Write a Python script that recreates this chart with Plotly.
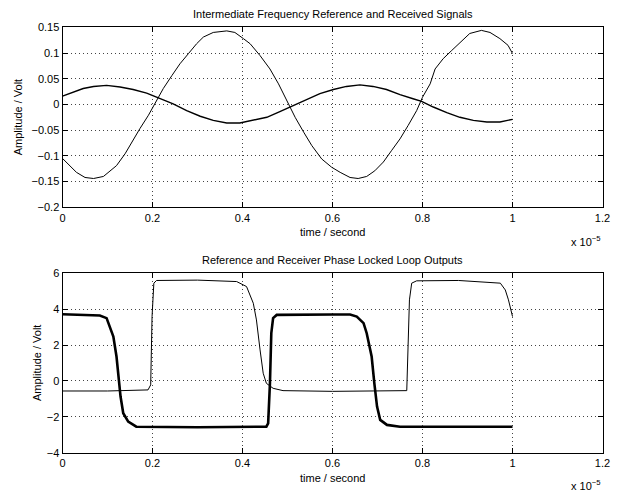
import plotly.graph_objects as go

# ---- data (time in units of 1e-5 s) ----
t_ref_if = [0, 0.024, 0.046, 0.069, 0.098, 0.128, 0.157, 0.187, 0.217, 0.246, 0.276, 0.306,
            0.335, 0.365, 0.394, 0.424, 0.454, 0.483, 0.513, 0.543, 0.572, 0.602, 0.631,
            0.661, 0.69, 0.72, 0.75, 0.779, 0.798, 0.824, 0.854, 0.883, 0.913, 0.943,
            0.972, 1.0]
v_ref_if = [0.016, 0.024, 0.031, 0.035, 0.037, 0.034, 0.029, 0.022, 0.012, 0.001, -0.012, -0.023,
            -0.031, -0.036, -0.036, -0.031, -0.025, -0.014, -0.002, 0.01, 0.021, 0.029, 0.035,
            0.038, 0.035, 0.029, 0.019, 0.011, 0.006, -0.005, -0.016, -0.025, -0.031, -0.034,
            -0.034, -0.029]

t_rx_if = [0, 0.017, 0.031, 0.05, 0.069, 0.091, 0.102, 0.12, 0.139, 0.154, 0.172, 0.191, 0.209,
           0.224, 0.243, 0.261, 0.28, 0.298, 0.313, 0.335, 0.365, 0.383, 0.402, 0.417, 0.439,
           0.461, 0.48, 0.499, 0.517, 0.536, 0.554, 0.576, 0.598, 0.617, 0.639, 0.657, 0.676,
           0.694, 0.713, 0.731, 0.75, 0.768, 0.787, 0.8, 0.817, 0.828, 0.846, 0.865, 0.884,
           0.905, 0.931, 0.95, 0.972, 0.99, 1.0]
v_rx_if = [-0.105, -0.119, -0.132, -0.142, -0.144, -0.14, -0.132, -0.119, -0.096, -0.073, -0.047, -0.021, 0.008,
           0.031, 0.056, 0.079, 0.099, 0.118, 0.131, 0.14, 0.143, 0.14, 0.128, 0.118, 0.095,
           0.069, 0.04, 0.005, -0.025, -0.054, -0.08, -0.106, -0.122, -0.132, -0.142, -0.144, -0.14,
           -0.129, -0.112, -0.09, -0.067, -0.041, -0.012, 0.014, 0.04, 0.069, 0.089, 0.105, 0.121,
           0.138, 0.144, 0.14, 0.128, 0.115, 0.099]

t_ref_pll = [0, 0.05, 0.083, 0.098, 0.113, 0.12, 0.124, 0.129, 0.135, 0.146, 0.164, 0.3, 0.453,
             0.457, 0.461, 0.464, 0.468, 0.476, 0.6, 0.639, 0.654, 0.669, 0.676, 0.687, 0.693,
             0.699, 0.706, 0.721, 0.75, 0.9, 1.0]
v_ref_pll = [3.72, 3.7, 3.65, 3.5, 2.47, 1.36, 0.24, -0.87, -1.8, -2.27, -2.55, -2.58, -2.55,
             -2.36, -0.13, 2.66, 3.5, 3.68, 3.7, 3.7, 3.59, 3.22, 2.66, 1.36, -0.13,
             -1.43, -2.17, -2.45, -2.55, -2.55, -2.55]

t_rx_pll = [0, 0.1, 0.19, 0.196, 0.199, 0.203, 0.209, 0.3, 0.387, 0.409, 0.424, 0.431, 0.439,
            0.446, 0.453, 0.468, 0.49, 0.6, 0.765, 0.767, 0.771, 0.776, 0.787, 0.88, 0.973,
            0.984, 0.991, 1.0]
v_rx_pll = [-0.56, -0.56, -0.5, -0.22, 3.59, 5.45, 5.6, 5.62, 5.54, 5.26, 4.33, 3.4, 1.73,
            0.43, -0.13, -0.41, -0.54, -0.58, -0.54, 1.17, 4.52, 5.45, 5.58, 5.6, 5.45,
            5.07, 4.52, 3.59]

x_ticks = [0, 0.2, 0.4, 0.6, 0.8, 1.0, 1.2]
x_ticktext = ["0", "0.2", "0.4", "0.6", "0.8", "1", "1.2"]
top_yticks = [-0.2, -0.15, -0.1, -0.05, 0, 0.05, 0.1, 0.15]
bot_yticks = [-4, -2, 0, 2, 4, 6]

titles = ["Intermediate Frequency Reference and Received Signals",
          "Reference and Receiver Phase Locked Loop Outputs"]

FONT = "Liberation Sans, Arial, Helvetica, sans-serif"

fig = go.Figure()
fig.add_trace(go.Scatter(x=t_ref_if, y=v_ref_if, mode="lines",
                         line=dict(color="black", width=1.4), xaxis="x", yaxis="y"))
fig.add_trace(go.Scatter(x=t_rx_if, y=v_rx_if, mode="lines",
                         line=dict(color="black", width=1), xaxis="x", yaxis="y"))
fig.add_trace(go.Scatter(x=t_ref_pll, y=v_ref_pll, mode="lines",
                         line=dict(color="black", width=2.6), xaxis="x2", yaxis="y2"))
fig.add_trace(go.Scatter(x=t_rx_pll, y=v_rx_pll, mode="lines",
                         line=dict(color="black", width=1), xaxis="x2", yaxis="y2"))

W, H = 623, 492
xl, xr = 62.5, 602.5
top_t, top_b = 27.3, 207.3
bot_t, bot_b = 273.3, 452.7

common_x = dict(range=[0, 1.2], tickvals=x_ticks, ticktext=x_ticktext, automargin=False,
                showgrid=True, gridcolor="#444", griddash="1px,3px", gridwidth=0.7,
                showline=True, linecolor="black", linewidth=1, mirror="ticks",
                ticks="inside", ticklen=5, tickcolor="black", zeroline=False,
                tickfont=dict(family=FONT, size=11, color="black"),
                domain=[xl / W, xr / W])
common_y = dict(showgrid=True, gridcolor="#444", griddash="1px,3px", gridwidth=0.7,
                automargin=False,
                showline=True, linecolor="black", linewidth=1, mirror="ticks",
                ticks="inside", ticklen=5, tickcolor="black", zeroline=False,
                tickfont=dict(family=FONT, size=11, color="black"))

fig.update_layout(
    template="none",
    width=W, height=H, margin=dict(l=0, r=0, t=0, b=0, pad=0),
    paper_bgcolor="white", plot_bgcolor="white", showlegend=False,
    xaxis=dict(**common_x, anchor="y"),
    yaxis=dict(**common_y, range=[-0.2, 0.15], tickvals=top_yticks,
               domain=[1 - top_b / H, 1 - top_t / H], anchor="x"),
    xaxis2=dict(**common_x, anchor="y2"),
    yaxis2=dict(**common_y, range=[-4, 6], tickvals=bot_yticks,
                domain=[1 - bot_b / H, 1 - bot_t / H], anchor="x2"),
)

cx = (xl + xr) / 2 / W
ann = []
ann.append(dict(text=titles[0], x=cx, y=1 - 14 / H))
ann.append(dict(text=titles[1], x=cx, y=1 - 260 / H))
ann.append(dict(text="time / second", x=cx, y=1 - 232 / H))
ann.append(dict(text="time / second", x=cx, y=1 - 478 / H))
annotations = [dict(a, xref="paper", yref="paper", showarrow=False,
                    font=dict(family=FONT, size=11, color="black"),
                    xanchor="center", yanchor="middle") for a in ann]
annotations.append(dict(text="Amplitude / Volt", x=18 / W, y=1 - (top_t + top_b) / 2 / H,
                        xref="paper", yref="paper", showarrow=False, textangle=-90,
                        font=dict(family=FONT, size=11, color="black"),
                        xanchor="center", yanchor="middle"))
annotations.append(dict(text="Amplitude / Volt", x=37 / W, y=1 - (bot_t + bot_b) / 2 / H,
                        xref="paper", yref="paper", showarrow=False, textangle=-90,
                        font=dict(family=FONT, size=11, color="black"),
                        xanchor="center", yanchor="middle"))
for yy in (241, 485):
    annotations.append(dict(text="x 10<sup>−5</sup>", x=603 / W, y=1 - yy / H,
                            xref="paper", yref="paper", showarrow=False,
                            font=dict(family=FONT, size=11, color="black"),
                            xanchor="right", yanchor="middle"))
fig.update_layout(annotations=annotations)

fig.write_html("out.html", config={"displayModeBar": False},
               post_script="document.body.style.margin='0';document.body.style.overflow='hidden';")
